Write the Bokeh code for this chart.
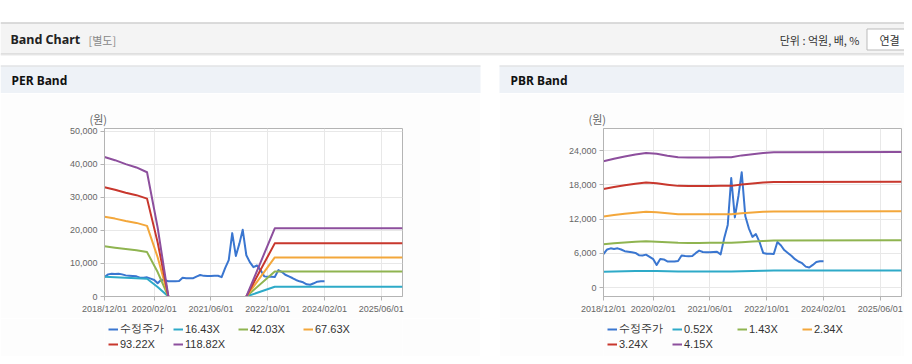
import numpy as np
import pandas as pd
from bokeh.plotting import figure
from bokeh.models import (Range1d, FixedTicker, DatetimeTickFormatter, NumeralTickFormatter,
                          Legend, LegendItem, Title, Spacer)
from bokeh.layouts import column, row
from bokeh.core.properties import value
from bokeh.embed import file_html
from bokeh.resources import INLINE

# ---------------- data ----------------
price_dates = pd.date_range("2018-12-01", "2024-02-01", freq="MS")
price = [5900, 6700, 6900, 6800, 6900, 6700, 6400, 6300, 6200, 6100,
         5700, 5650, 5800, 5400, 5000, 4000, 5050, 4950, 4600, 4600,
         4600, 4700, 5650, 5550, 5500, 5550, 6100, 6500, 6250, 6200,
         6200, 6250, 6300, 5850, 8600, 11000, 19200, 12300, 16100, 20200,
         12500, 10400, 8900, 9400, 8000, 6100, 5950, 5950, 5900, 8000,
         7400, 6600, 6100, 5600, 5000, 4600, 4300, 3700, 3550, 4000,
         4500, 4650, 4650]

nan = float("nan")
per_band_dates = pd.to_datetime(["2018-12-01", "2019-03-01", "2019-06-01", "2019-09-01",
                                 "2019-12-01", "2020-03-01", "2020-06-01", "2021-05-01",
                                 "2022-04-01", "2022-12-01", "2025-12-01"])
per_band_16 = [6000, 5850, 5700, 5550, 5400, 2900, 0, nan, 0, 2950, 2950]
per_band_42 = [15200, 14800, 14400, 14000, 13450, 7400, 0, nan, 0, 7550, 7550]
per_band_67 = [24150, 23600, 22900, 22300, 21400, 11900, 0, nan, 0, 11850, 11850]
per_band_93 = [33100, 32350, 31450, 30700, 29650, 16400, 0, nan, 0, 16100, 16100]
per_band_118 = [42250, 41300, 40100, 39100, 37650, 20900, 0, nan, 0, 20650, 20650]
per_labels = ["수정주가", "16.43X", "42.03X", "67.63X", "93.22X", "118.82X"]

pbr_band_dates = pd.to_datetime(["2018-12-01", "2019-03-01", "2019-06-01", "2019-09-01",
                                 "2019-12-01", "2020-03-01", "2020-06-01", "2020-09-01",
                                 "2020-12-01", "2021-03-01", "2021-06-01", "2021-09-01",
                                 "2021-12-01", "2022-03-01", "2022-06-01", "2022-09-01",
                                 "2022-12-01", "2025-12-01"])
pbr_band_052 = [2800, 2830, 2880, 2920, 2950, 2930, 2890, 2860, 2850, 2850,
                2860, 2860, 2860, 2900, 2950, 2980, 3010, 3020]
pbr_band_143 = [7630, 7770, 7910, 8030, 8120, 8070, 7960, 7870, 7850, 7850,
                7860, 7860, 7870, 7980, 8100, 8200, 8280, 8300]
pbr_band_234 = [12480, 12720, 12940, 13140, 13280, 13200, 13020, 12870, 12840, 12840,
                12860, 12870, 12870, 13050, 13170, 13280, 13360, 13380]
pbr_band_324 = [17280, 17610, 17920, 18190, 18390, 18280, 18030, 17820, 17780, 17780,
                17800, 17820, 17820, 18070, 18230, 18390, 18500, 18560]
pbr_band_415 = [22130, 22550, 22950, 23300, 23550, 23420, 23100, 22830, 22780, 22770,
                22800, 22820, 22830, 23150, 23350, 23550, 23700, 23720]
pbr_labels = ["수정주가", "0.52X", "1.43X", "2.34X", "3.24X", "4.15X"]

x_tick_dates = ["2018-12-01", "2020-02-01", "2021-06-01", "2022-10-01", "2024-02-01", "2025-06-01"]
per_y_ticks = [0, 10000, 20000, 30000, 40000, 50000]
pbr_y_ticks = [0, 6000, 12000, 18000, 24000]

colors = ["#3a76d0", "#2eaac8", "#8fb450", "#f3a73b", "#c8372d", "#8d4f9d"]


def ms(d):
    return pd.Timestamp(d).value / 1e6


X_START, X_END = ms("2018-12-01"), ms("2025-12-01")
AX = "#b4b4b4"
TICK_FONT = "Liberation Sans"
PANEL_BG = "#fdfdfd"


def make_chart(bands, band_dates, labels, y_start, y_end, y_ticks, width, mbl, mbr):
    p = figure(width=width, height=225, x_axis_type="datetime",
               x_range=Range1d(X_START, X_END), y_range=Range1d(y_start, y_end),
               min_border_left=mbl, min_border_right=mbr, min_border_top=35, min_border_bottom=22,
               toolbar_location=None, output_backend="svg",
               background_fill_color="white", border_fill_color=PANEL_BG,
               outline_line_color=AX)
    p.xaxis.ticker = FixedTicker(ticks=[ms(d) for d in x_tick_dates])
    fmt = "%Y/%m/%d"
    p.xaxis.formatter = DatetimeTickFormatter(milliseconds=fmt, seconds=fmt, minsec=fmt, minutes=fmt,
                                              hourmin=fmt, hours=fmt, days=fmt, months=fmt, years=fmt)
    p.yaxis.ticker = FixedTicker(ticks=y_ticks)
    p.yaxis.formatter = NumeralTickFormatter(format="0,0")
    for ax in (p.xaxis, p.yaxis):
        ax.axis_line_color = AX
        ax.major_tick_line_color = AX
        ax.major_tick_out = 4
        ax.major_tick_in = 0
        ax.minor_tick_out = 0
        ax.minor_tick_in = 0
        ax.major_label_text_font = TICK_FONT
        ax.major_label_text_font_size = "9px"
        ax.major_label_text_color = "#666666"
        ax.major_label_standoff = 3
    p.grid.grid_line_color = "#e8e8e8"

    p.line(x=price_dates, y=price, line_color=colors[0], line_width=2, line_join="round")
    for i, b in enumerate(bands):
        p.line(x=band_dates, y=b, line_color=colors[i + 1], line_width=2, line_join="round")

    p.add_layout(Title(text="(원)", align="left", offset=-15, standoff=4,
                       text_font_size="11px", text_font_style="normal",
                       text_color="#666666", text_font="Noto Sans CJK KR"), "above")

    # legend strip underneath the chart (its frame is aligned with the chart frame)
    lg = figure(width=width, height=38, x_range=Range1d(0, 1), y_range=Range1d(0, 1),
                toolbar_location=None, output_backend="svg", min_border=0,
                x_axis_type=None, y_axis_type=None, outline_line_color=None,
                background_fill_color=PANEL_BG, border_fill_color=PANEL_BG)
    lg.xgrid.visible = False
    lg.ygrid.visible = False
    items = []
    for c, lab in zip(colors, labels):
        # legend key only: the segment lies outside the visible range
        r = lg.line(x=[5, 6], y=[5, 6], line_color=c, line_width=2)
        items.append(LegendItem(label=lab, renderers=[r]))
    legend = Legend(items=items, location=(4, 5), orientation="horizontal", ncols=4,
                    glyph_width=10, glyph_height=14, label_height=14, label_width=52,
                    label_standoff=2, spacing=1, padding=0, margin=0,
                    border_line_alpha=0, background_fill_alpha=0,
                    label_text_font_size="11px", label_text_color="#333333",
                    label_text_font=TICK_FONT)
    lg.add_layout(legend)
    return column(p, lg, spacing=0)


per = make_chart([per_band_16, per_band_42, per_band_67, per_band_93, per_band_118], per_band_dates,
                 per_labels, 0, 50900, per_y_ticks, 480, 104, 78)
pbr = make_chart([pbr_band_052, pbr_band_143, pbr_band_234, pbr_band_324, pbr_band_415], pbr_band_dates,
                 pbr_labels, -1520, 27850, pbr_y_ticks, 405, 104, 3)

# ---------------- page chrome (header and panel titles) ----------------
hdr = figure(width=904, height=93, x_range=Range1d(0, 904), y_range=Range1d(93, 0),
             toolbar_location=None, output_backend="svg", min_border=0,
             x_axis_type=None, y_axis_type=None, outline_line_color=None,
             background_fill_color="white", border_fill_color="white")
hdr.xgrid.visible = False
hdr.ygrid.visible = False

hdr.quad(left=[0], right=[904], top=[22], bottom=[53], fill_color="#f4f4f4", line_color=None)
hdr.segment(x0=[0], x1=[904], y0=[22.5], y1=[22.5], line_color="#bdbdbd", line_width=1)
hdr.segment(x0=[0], x1=[904], y0=[53.5], y1=[53.5], line_color="#c4c4c4", line_width=1)
hdr.segment(x0=[0], x1=[904], y0=[54.5], y1=[54.5], line_color="#e8e8e8", line_width=1)
hdr.text(x=[10], y=[39], text=["Band Chart"], text_font=value("Noto Sans"), text_font_style="bold",
         text_font_size="12.5px", text_color="#222222", text_baseline="middle")
hdr.text(x=[88], y=[39], text=["[별도]"], text_font=value("Noto Sans CJK KR"),
         text_font_size="11px", text_color="#888888", text_baseline="middle")
hdr.text(x=[859], y=[39], text=["단위 : 억원, 배, %"], text_font=value("Noto Sans CJK KR"),
         text_font_size="11px", text_color="#333333", text_baseline="middle", text_align="right")
hdr.quad(left=[866.5], right=[920], top=[28.5], bottom=[49.5], fill_color="white", line_color="#bbbbbb")
hdr.text(x=[889], y=[39], text=["연결"], text_font=value("Noto Sans CJK KR"),
         text_font_size="11px", text_color="#333333", text_baseline="middle", text_align="center")

hdr.quad(left=[0, 499], right=[480, 904], top=[65, 65], bottom=[93, 93], fill_color="#eef2f7",
         line_color=None)
hdr.segment(x0=[0, 499], x1=[480, 904], y0=[65.5, 65.5], y1=[65.5, 65.5], line_color="#dcdcdc")
hdr.text(x=[11, 510], y=[80, 80], text=["PER Band", "PBR Band"], text_font=value("Noto Sans"),
         text_font_style="bold", text_font_size="12px", text_color="#111111", text_baseline="middle")

layout = column(hdr, row(per, Spacer(width=19, height=263), pbr, spacing=0), spacing=0)

open("out.html", "w").write(file_html(layout, INLINE))
